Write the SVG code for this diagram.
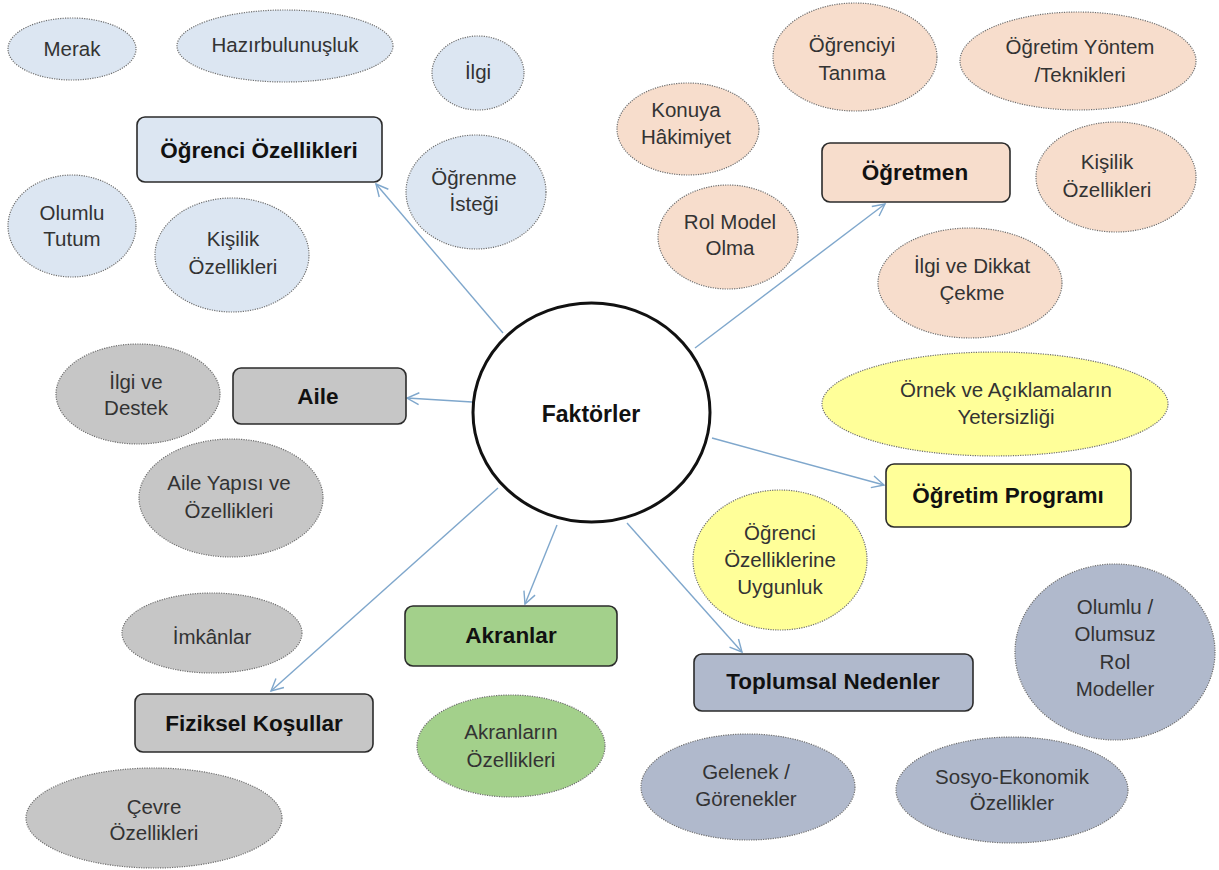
<svg xmlns="http://www.w3.org/2000/svg" width="1219" height="870" viewBox="0 0 1219 870">
<defs>
<marker id="arr" markerWidth="16" markerHeight="16" refX="13" refY="7" orient="auto" markerUnits="userSpaceOnUse">
<path d="M1,1 L13,7 L1,13" fill="none" stroke="#7fa7cc" stroke-width="1.4"/>
</marker>
<style>
.e{stroke:#6f6f6f;stroke-width:1.2;stroke-dasharray:1.2 1.2}
.b{stroke:#2b2b2b;stroke-width:1.6}
.t{font-family:"Liberation Sans",Arial,sans-serif;font-size:20.5px;fill:#333;text-anchor:middle}
.h{font-family:"Liberation Sans",Arial,sans-serif;font-size:22.5px;font-weight:bold;fill:#111;text-anchor:middle}
.bl{fill:#dce6f2}.pe{fill:#f7ddcc}.gr{fill:#c6c6c6}.ye{fill:#ffff99}.gn{fill:#a3d08b}.sl{fill:#b0b9cc}
.c{stroke:#7fa7cc;stroke-width:1.4;fill:none;marker-end:url(#arr)}
</style>
</defs>
<rect width="1219" height="870" fill="#fff"/>

<g id="connectors">
<line class="c" x1="503" y1="333" x2="376" y2="184"/>
<line class="c" x1="695" y1="348" x2="885" y2="204"/>
<line class="c" x1="472" y1="402" x2="407" y2="398"/>
<line class="c" x1="712" y1="438" x2="884" y2="485"/>
<line class="c" x1="557" y1="525" x2="525" y2="604"/>
<line class="c" x1="627" y1="523" x2="742" y2="652"/>
<line class="c" x1="498" y1="488" x2="271" y2="691"/>
</g>

<g id="center">
<ellipse cx="591.5" cy="412.5" rx="118.5" ry="109.5" fill="#fff" stroke="#111" stroke-width="3"/>
<text class="h" x="591" y="422" style="font-size:23px">Faktörler</text>
</g>

<g id="ogrenci-ozellikleri">
<rect class="b bl" x="137" y="117" width="245" height="65" rx="8"/>
<text class="h" x="259" y="158">Öğrenci Özellikleri</text>
</g>
<g id="merak"><ellipse class="e bl" cx="72" cy="49" rx="64" ry="31"/><text class="t" x="72" y="56">Merak</text></g>
<g id="hazirbulunusluk"><ellipse class="e bl" cx="285" cy="46" rx="108" ry="36"/><text class="t" x="285" y="52">Hazırbulunuşluk</text></g>
<g id="ilgi"><ellipse class="e bl" cx="478" cy="73" rx="46" ry="37"/><text class="t" x="478" y="79">İlgi</text></g>
<g id="ogrenme-istegi"><ellipse class="e bl" cx="476" cy="192" rx="70" ry="57"/><text class="t" x="474" y="185">Öğrenme</text><text class="t" x="474" y="211">İsteği</text></g>
<g id="olumlu-tutum"><ellipse class="e bl" cx="72" cy="226" rx="64" ry="51"/><text class="t" x="72" y="220">Olumlu</text><text class="t" x="72" y="246">Tutum</text></g>
<g id="kisilik-ogrenci"><ellipse class="e bl" cx="232" cy="255" rx="77" ry="57"/><text class="t" x="233" y="246">Kişilik</text><text class="t" x="233" y="274">Özellikleri</text></g>

<g id="ogretmen">
<rect class="b pe" x="822" y="143" width="188" height="59" rx="8"/>
<text class="h" x="915" y="180">Öğretmen</text>
</g>
<g id="konuya-hakimiyet"><ellipse class="e pe" cx="688" cy="129" rx="71" ry="46"/><text class="t" x="686" y="117">Konuya</text><text class="t" x="686" y="144">Hâkimiyet</text></g>
<g id="rol-model-olma"><ellipse class="e pe" cx="728" cy="237" rx="70" ry="52"/><text class="t" x="730" y="229">Rol Model</text><text class="t" x="730" y="255">Olma</text></g>
<g id="ogrenciyi-tanima"><ellipse class="e pe" cx="855" cy="57" rx="82" ry="54"/><text class="t" x="852" y="52">Öğrenciyi</text><text class="t" x="852" y="80">Tanıma</text></g>
<g id="ogretim-yontem"><ellipse class="e pe" cx="1078" cy="61" rx="118" ry="49"/><text class="t" x="1080" y="54">Öğretim Yöntem</text><text class="t" x="1080" y="82">/Teknikleri</text></g>
<g id="kisilik-ogretmen"><ellipse class="e pe" cx="1116" cy="177" rx="80" ry="55"/><text class="t" x="1107" y="169">Kişilik</text><text class="t" x="1107" y="197">Özellikleri</text></g>
<g id="ilgi-dikkat"><ellipse class="e pe" cx="970" cy="283" rx="92" ry="55"/><text class="t" x="972" y="273">İlgi ve Dikkat</text><text class="t" x="972" y="300">Çekme</text></g>

<g id="aile">
<rect class="b gr" x="233" y="368" width="173" height="56" rx="8"/>
<text class="h" x="318" y="404">Aile</text>
</g>
<g id="ilgi-destek"><ellipse class="e gr" cx="138" cy="394" rx="82" ry="50"/><text class="t" x="136" y="389">İlgi ve</text><text class="t" x="136" y="415">Destek</text></g>
<g id="aile-yapisi"><ellipse class="e gr" cx="231" cy="498" rx="92" ry="59"/><text class="t" x="229" y="490">Aile Yapısı ve</text><text class="t" x="229" y="518">Özellikleri</text></g>

<g id="ogretim-programi">
<rect class="b ye" x="886" y="464" width="245" height="63" rx="8"/>
<text class="h" x="1008" y="503">Öğretim Programı</text>
</g>
<g id="ornek-aciklama"><ellipse class="e ye" cx="995" cy="404" rx="173" ry="52"/><text class="t" x="1006" y="397">Örnek ve Açıklamaların</text><text class="t" x="1006" y="424">Yetersizliği</text></g>
<g id="uygunluk"><ellipse class="e ye" cx="780" cy="560" rx="87" ry="70"/><text class="t" x="780" y="540">Öğrenci</text><text class="t" x="780" y="567">Özelliklerine</text><text class="t" x="780" y="594">Uygunluk</text></g>

<g id="akranlar">
<rect class="b gn" x="405" y="606" width="212" height="60" rx="8"/>
<text class="h" x="511" y="643">Akranlar</text>
</g>
<g id="akranlarin-ozellikleri"><ellipse class="e gn" cx="511" cy="746" rx="94" ry="51"/><text class="t" x="511" y="739">Akranların</text><text class="t" x="511" y="767">Özellikleri</text></g>

<g id="fiziksel-kosullar">
<rect class="b gr" x="135" y="694" width="238" height="58" rx="8"/>
<text class="h" x="254" y="731">Fiziksel Koşullar</text>
</g>
<g id="imkanlar"><ellipse class="e gr" cx="212" cy="633" rx="90" ry="40"/><text class="t" x="212" y="644">İmkânlar</text></g>
<g id="cevre-ozellikleri"><ellipse class="e gr" cx="154" cy="818" rx="128" ry="50"/><text class="t" x="154" y="814">Çevre</text><text class="t" x="154" y="840">Özellikleri</text></g>

<g id="toplumsal-nedenler">
<rect class="b sl" x="694" y="654" width="279" height="57" rx="8"/>
<text class="h" x="833" y="689">Toplumsal Nedenler</text>
</g>
<g id="rol-modeller"><ellipse class="e sl" cx="1115" cy="652" rx="100" ry="88"/><text class="t" x="1115" y="614">Olumlu /</text><text class="t" x="1115" y="641">Olumsuz</text><text class="t" x="1115" y="669">Rol</text><text class="t" x="1115" y="696">Modeller</text></g>
<g id="gelenek"><ellipse class="e sl" cx="748" cy="787" rx="107" ry="53"/><text class="t" x="746" y="779">Gelenek /</text><text class="t" x="746" y="806">Görenekler</text></g>
<g id="sosyo-ekonomik"><ellipse class="e sl" cx="1012" cy="790" rx="116" ry="53"/><text class="t" x="1012" y="784">Sosyo-Ekonomik</text><text class="t" x="1012" y="810">Özellikler</text></g>
</svg>
